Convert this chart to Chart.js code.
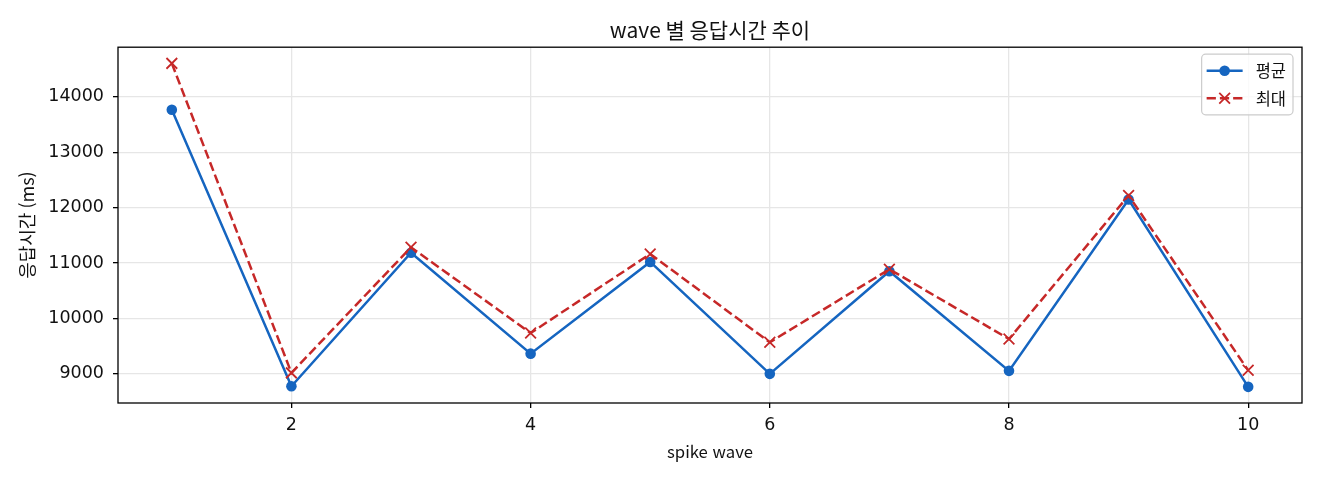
<!DOCTYPE html>
<html lang="ko">
<head>
<meta charset="utf-8">
<title>wave 별 응답시간 추이</title>
<script src="https://cdn.jsdelivr.net/npm/chart.js@4.4.1/dist/chart.umd.min.js"></script>
<style>
  html, body { margin: 0; padding: 0; background: #fff; }
  #wrap { width: 1320px; height: 480px; }
</style>
</head>
<body>
<div id="wrap"><canvas id="chart" width="1320" height="480"></canvas></div>
<script>
// ============ DATA ============
const waves = [1, 2, 3, 4, 5, 6, 7, 8, 9, 10];
const avgMs = [13766, 8777, 11187, 9365, 11020, 9000, 10852, 9054, 12147, 8766];
const maxMs = [14604, 9018, 11284, 9737, 11164, 9570, 10888, 9629, 12219, 9065];
const xTicks = [2, 4, 6, 8, 10];
const yTicks = [9000, 10000, 11000, 12000, 13000, 14000];
const seriesLabels = ['평균', '최대'];

const BLUE = '#1565c0';
const RED = '#c62828';
const KR_FONT = '"Noto Sans CJK KR", "Noto Sans", sans-serif';
const NUM_FONT = '"DejaVu Sans", sans-serif';

// matplotlib-style 5% margins around the data
function paddedRange(values, frac = 0.05) {
    const lo = Math.min(...values), hi = Math.max(...values);
    const m = (hi - lo) * frac;
    return [lo - m, hi + m];
}
const [xMin, xMax] = paddedRange(waves);
const [yMin, yMax] = paddedRange(avgMs.concat(maxMs));

// ============ PLUGINS ============
// full box around the plot area (Chart.js only draws the axis sides)
const frameBox = {
    id: 'frameBox',
    afterDatasetsDraw(chart) {
        const { ctx, chartArea: a } = chart;
        ctx.save();
        ctx.strokeStyle = '#000';
        ctx.lineWidth = 1.3;
        ctx.strokeRect(a.left, a.top, a.right - a.left, a.bottom - a.top);
        ctx.restore();
    }
};

// legend with line + marker samples, top right inside the plot
const lineLegend = {
    id: 'lineLegend',
    afterDraw(chart) {
        const { ctx, chartArea: a } = chart;
        const sets = chart.data.datasets;
        ctx.save();
        ctx.font = '16.5px ' + KR_FONT;
        const textW = Math.max(...sets.map(d => ctx.measureText(d.label).width));
        const rowH = 27.6, handle = 36, gap = 13;
        const w = 5 + handle + gap + textW + 7;
        const h = 16.5 * 2 + rowH * (sets.length - 1);
        const x1 = a.right - 9, x0 = x1 - w, y0 = a.top + 7;

        const r = 4;
        ctx.beginPath();
        ctx.moveTo(x0 + r, y0);
        ctx.arcTo(x1, y0, x1, y0 + h, r);
        ctx.arcTo(x1, y0 + h, x0, y0 + h, r);
        ctx.arcTo(x0, y0 + h, x0, y0, r);
        ctx.arcTo(x0, y0, x1, y0, r);
        ctx.closePath();
        ctx.fillStyle = 'rgba(255,255,255,0.8)';
        ctx.fill();
        ctx.strokeStyle = '#cccccc';
        ctx.lineWidth = 1.2;
        ctx.stroke();

        sets.forEach((d, i) => {
            const y = y0 + 16.5 + i * rowH;
            const lx0 = x0 + 5, lx1 = lx0 + handle, cx = (lx0 + lx1) / 2;
            ctx.strokeStyle = d.borderColor;
            ctx.lineWidth = d.borderWidth;
            ctx.setLineDash(d.borderDash || []);
            ctx.beginPath();
            ctx.moveTo(lx0, y);
            ctx.lineTo(lx1, y);
            ctx.stroke();
            ctx.setLineDash([]);
            if (d.pointStyle === 'crossRot') {
                const s = d.pointRadius * Math.SQRT1_2;
                ctx.lineWidth = d.pointBorderWidth;
                ctx.strokeStyle = d.pointBorderColor;
                ctx.beginPath();
                ctx.moveTo(cx - s, y - s); ctx.lineTo(cx + s, y + s);
                ctx.moveTo(cx - s, y + s); ctx.lineTo(cx + s, y - s);
                ctx.stroke();
            } else {
                ctx.fillStyle = d.pointBackgroundColor;
                ctx.beginPath();
                ctx.arc(cx, y, d.pointRadius, 0, Math.PI * 2);
                ctx.fill();
            }
            ctx.fillStyle = '#111';
            ctx.textBaseline = 'middle';
            ctx.textAlign = 'left';
            ctx.fillText(d.label, lx1 + gap, y);
        });
        ctx.restore();
    }
};

// ============ CHART ============
Chart.defaults.font.family = KR_FONT;
Chart.defaults.color = '#111';

new Chart(document.getElementById('chart').getContext('2d'), {
    type: 'line',
    data: {
        datasets: [{
            label: seriesLabels[0],
            data: waves.map((w, i) => ({ x: w, y: avgMs[i] })),
            borderColor: BLUE,
            backgroundColor: BLUE,
            borderWidth: 2.5,
            tension: 0,
            pointStyle: 'circle',
            pointRadius: 5.3,
            pointBorderWidth: 0,
            pointBackgroundColor: BLUE,
            order: 1
        }, {
            label: seriesLabels[1],
            data: waves.map((w, i) => ({ x: w, y: maxMs[i] })),
            borderColor: RED,
            backgroundColor: RED,
            borderWidth: 2.5,
            borderDash: [9.25, 4],
            tension: 0,
            pointStyle: 'crossRot',
            pointRadius: 7.6,
            pointBorderWidth: 1.8,
            pointBorderColor: RED,
            pointBackgroundColor: RED,
            order: 0
        }]
    },
    options: {
        responsive: false,
        animation: false,
        devicePixelRatio: 1,
        layout: { padding: { left: 0, right: 18, top: 0, bottom: 0 } },
        plugins: {
            legend: { display: false },
            tooltip: { enabled: false },
            title: {
                display: true,
                fullSize: false,   // centre over the plot area, like matplotlib
                text: 'wave 별 응답시간 추이',
                color: '#111',
                font: { size: 21, weight: 'normal', family: KR_FONT },
                padding: { top: 17, bottom: 5 }
            }
        },
        scales: {
            x: {
                type: 'linear',
                min: xMin,
                max: xMax,
                afterBuildTicks: s => { s.ticks = xTicks.map(v => ({ value: v })); },
                afterFit: s => { s.height = 77; },
                ticks: {
                    callback: v => String(v),
                    font: { size: 17.5, family: NUM_FONT },
                    color: '#111',
                    padding: 7,
                    maxRotation: 0
                },
                grid: {
                    color: '#e6e6e6',
                    lineWidth: 1.3,
                    tickColor: '#000',
                    tickLength: 5,
                    tickWidth: 1.3
                },
                border: { display: false },
                title: {
                    display: true,
                    text: 'spike wave',
                    color: '#111',
                    font: { size: 16.7, family: KR_FONT },
                    padding: { top: 0, bottom: 18 }
                }
            },
            y: {
                min: yMin,
                max: yMax,
                afterBuildTicks: s => { s.ticks = yTicks.map(v => ({ value: v })); },
                afterFit: s => { s.width = 118; },
                ticks: {
                    callback: v => String(v),
                    font: { size: 17.5, family: NUM_FONT },
                    color: '#111',
                    padding: 9
                },
                grid: {
                    color: '#e6e6e6',
                    lineWidth: 1.3,
                    tickColor: '#000',
                    tickLength: 5,
                    tickWidth: 1.3
                },
                border: { display: false },
                title: {
                    display: true,
                    text: '응답시간 (ms)',
                    color: '#111',
                    font: { size: 18, family: KR_FONT },
                    padding: { top: 16, bottom: 0 }
                }
            }
        }
    },
    plugins: [frameBox, lineLegend]
});
</script>
</body>
</html>
